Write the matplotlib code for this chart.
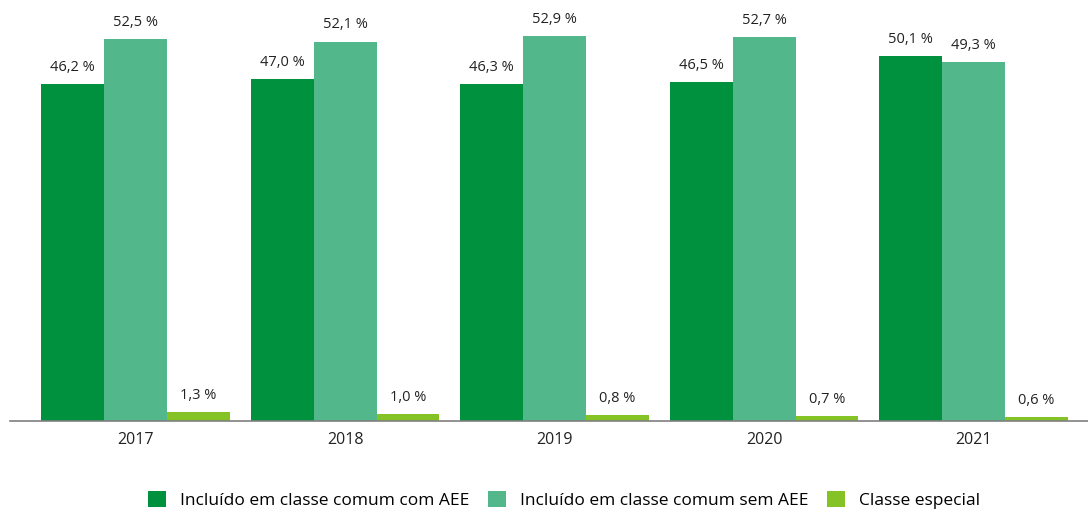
import matplotlib
matplotlib.use("Agg")
import matplotlib.pyplot as plt
import numpy as np

years = ["2017", "2018", "2019", "2020", "2021"]
series_names = ["Incluído em classe comum com AEE",
                "Incluído em classe comum sem AEE",
                "Classe especial"]
com_aee = [46.2, 47.0, 46.3, 46.5, 50.1]
sem_aee = [52.5, 52.1, 52.9, 52.7, 49.3]
especial = [1.3, 1.0, 0.8, 0.7, 0.6]
colors = ["#00913F", "#52B78B", "#85C226"]

plt.rcParams['font.family'] = ['Open Sans', 'DejaVu Sans']

fig = plt.figure(figsize=(10.88, 5.12), dpi=100)
ax = fig.add_axes([10/1088, (512-421)/512, 1 - 10/1088, 421/512])

x = np.arange(len(years))
w = 0.3
for i, (vals, c, name) in enumerate(zip([com_aee, sem_aee, especial], colors, series_names)):
    pos = x + (i - 1) * w
    ax.bar(pos, vals, width=w, color=c, label=name, zorder=2)
    for xp, v in zip(pos, vals):
        ax.annotate(f"{v:.1f} %".replace(".", ","), (xp, v), xytext=(0, 6.5),
                    textcoords="offset points", ha="center", va="bottom",
                    fontsize=10.5, color="#222222")

ax.set_xlim(-0.6, 4.546)
ax.set_ylim(0, 57.8)
ax.set_yticks([])
ax.set_xticks(x)
ax.set_xticklabels(years, fontsize=11.5, color="#222222")
ax.tick_params(axis="x", length=0, pad=8)
for s in ["top", "right", "left"]:
    ax.spines[s].set_visible(False)
ax.spines["bottom"].set_color("#7f7f7f")
ax.spines["bottom"].set_linewidth(1.2)

handles, labels = ax.get_legend_handles_labels()
fig.legend(handles, labels, loc="center", bbox_to_anchor=(564/1088, 1 - 500/512),
           ncol=3, frameon=False, fontsize=12.5, handlelength=1.03, handleheight=1.03,
           columnspacing=1.1, handletextpad=0.8)

fig.savefig("out.png", dpi=100)
